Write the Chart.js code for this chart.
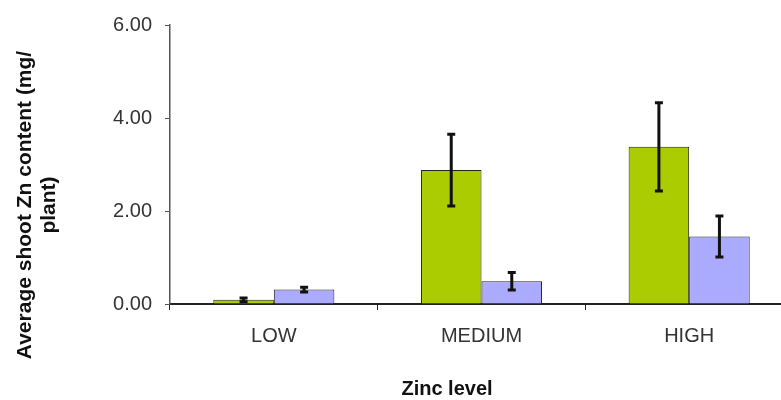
<!DOCTYPE html>
<html>
<head>
<meta charset="utf-8">
<script src="https://cdn.jsdelivr.net/npm/chart.js@4"></script>
<style>
  html, body { margin: 0; padding: 0; background: #fff; overflow: hidden; }
  #wrap { position: relative; width: 800px; height: 400px; }
</style>
</head>
<body>
<div id="wrap"><canvas id="c"></canvas></div>
<script>
const categories = ["LOW", "MEDIUM", "HIGH"];
const greenValues = [0.09, 2.88, 3.38];
const greenErrors = [0.04, 0.77, 0.95];
const blueValues = [0.31, 0.49, 1.45];
const blueErrors = [0.05, 0.19, 0.44];
const yTicks = [0, 2, 4, 6];
const xTitle = "Zinc level";
const yTitleLines = ["Average shoot Zn content (mg/", "plant)"];

const errorBars = {
  id: 'errorBars',
  afterDatasetsDraw(chart) {
    const ctx = chart.ctx;
    const y = chart.scales.y;
    ctx.save();
    ctx.strokeStyle = '#111';
    ctx.lineWidth = 3;
    chart.data.datasets.forEach((ds, di) => {
      const meta = chart.getDatasetMeta(di);
      meta.data.forEach((bar, i) => {
        const v = ds.data[i], e = ds.errors[i];
        const x = bar.x;
        const yt = y.getPixelForValue(v + e);
        const yb = y.getPixelForValue(v - e);
        ctx.beginPath();
        ctx.moveTo(x, yt); ctx.lineTo(x, yb);
        ctx.moveTo(x - 4, yt); ctx.lineTo(x + 4, yt);
        ctx.moveTo(x - 4, yb); ctx.lineTo(x + 4, yb);
        ctx.stroke();
      });
    });
    ctx.restore();
  }
};

const titles = {
  id: 'titles',
  afterDraw(chart) {
    const ctx = chart.ctx;
    ctx.save();
    ctx.fillStyle = '#111';
    ctx.font = 'bold 20px "Liberation Sans", Arial, sans-serif';
    ctx.textAlign = 'center';
    ctx.textBaseline = 'alphabetic';
    ctx.fillText(xTitle, 447, 395);
    ctx.font = 'bold 21px "Liberation Sans", Arial, sans-serif';
    const xs = [30.5, 54.5];
    yTitleLines.forEach((t, i) => {
      ctx.save();
      ctx.translate(xs[i], 205);
      ctx.rotate(-Math.PI / 2);
      ctx.fillText(t, 0, 0);
      ctx.restore();
    });
    ctx.restore();
  }
};

new Chart(document.getElementById('c'), {
  type: 'bar',
  data: {
    labels: categories,
    datasets: [
      { data: greenValues, errors: greenErrors, backgroundColor: '#aacc00', borderColor: '#222', borderWidth: 1 },
      { data: blueValues, errors: blueErrors, backgroundColor: '#aaaaff', borderColor: '#222', borderWidth: 1 }
    ]
  },
  options: {
    responsive: true,
    maintainAspectRatio: false,
    animation: false,
    layout: { padding: { top: 20, left: 0, right: 7, bottom: 0 } },
    categoryPercentage: 0.583,
    barPercentage: 1,
    plugins: { legend: { display: false }, tooltip: { enabled: false } },
    scales: {
      x: {
        z: 1,
        afterFit(s) { s.height = 96; },
        grid: { display: true, drawOnChartArea: false, offset: true, tickLength: 6, color: '#222', lineWidth: 1 },
        border: { display: true, color: '#222', width: 2 },
        ticks: { color: '#333', padding: 14, font: { family: '"Liberation Sans", Arial, sans-serif', size: 20 } }
      },
      y: {
        min: 0, max: 6,
        afterFit(s) { s.width = 170; },
        afterBuildTicks(s) { s.ticks = yTicks.map(v => ({ value: v })); },
        grid: { display: true, drawOnChartArea: false, tickLength: 5, color: '#555', lineWidth: 1 },
        border: { display: true, color: '#555', width: 1.5 },
        ticks: {
          color: '#333', padding: 13,
          font: { family: '"Liberation Sans", Arial, sans-serif', size: 20 },
          callback: v => Number(v).toFixed(2)
        }
      }
    }
  },
  plugins: [errorBars, titles]
});
</script>
</body>
</html>
